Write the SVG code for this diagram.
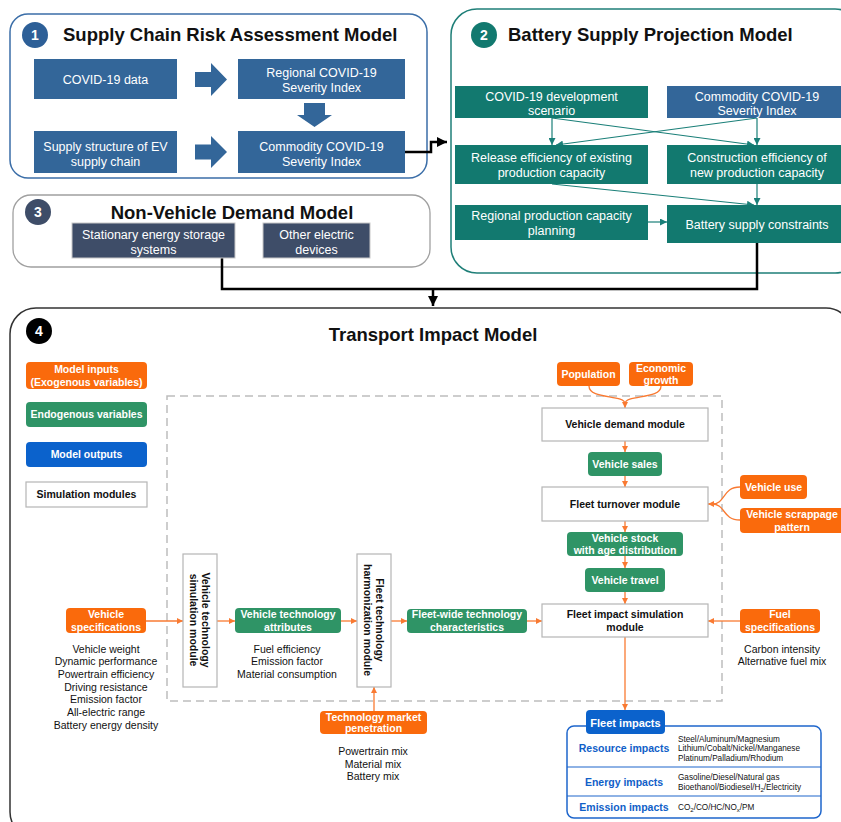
<svg xmlns="http://www.w3.org/2000/svg" width="841" height="822" viewBox="0 0 841 822">
  <defs>
    <style>
      text { font-family: "Liberation Sans", Arial, Helvetica, sans-serif; }
      .title { font-size: 18.5px; font-weight: bold; fill: #111; }
      .num { font-size: 14px; font-weight: bold; fill: #fff; text-anchor: middle; }
      .bt { font-size: 12.5px; fill: #fff; text-anchor: middle; }
      .lbl { font-size: 10.5px; font-weight: bold; fill: #fff; text-anchor: middle; }
      .mod { font-size: 10.5px; font-weight: bold; fill: #111; text-anchor: middle; }
      .list { font-size: 10.5px; fill: #111; text-anchor: middle; }
      .imp { font-size: 10.5px; font-weight: bold; fill: #1060c8; text-anchor: middle; }
      .item { font-size: 8.2px; fill: #111; }
      .p1box { fill: #336699; }
      .p2box { fill: #12796f; }
      .p3box { fill: #3e4d68; stroke: #c8c8c8; stroke-width: 1; }
      .inp { fill: #fa6a0c; }
      .endo { fill: #2f9466; }
      .outp { fill: #0b62cc; }
      .simm { fill: #fff; stroke: #b5b5b5; stroke-width: 1.2; }
      .blk { fill: none; stroke: #000; stroke-width: 2.5; }
      .teal { fill: none; stroke: #1a7f78; stroke-width: 1.2; }
      .org { fill: none; stroke: #f97a32; stroke-width: 1.3; }
    </style>
    <marker id="ahBlack" viewBox="0 0 10 10" refX="10" refY="5" markerWidth="10" markerHeight="10" markerUnits="userSpaceOnUse" orient="auto">
      <path d="M0,0 L10,5 L0,10 z" fill="#000"/>
    </marker>
    <marker id="ahTeal" viewBox="0 0 10 10" refX="10" refY="5" markerWidth="7" markerHeight="7" markerUnits="userSpaceOnUse" orient="auto">
      <path d="M0,0 L10,5 L0,10 z" fill="#1a7f78"/>
    </marker>
    <marker id="ahOrange" viewBox="0 0 10 10" refX="10" refY="5" markerWidth="6" markerHeight="6" markerUnits="userSpaceOnUse" orient="auto">
      <path d="M0,0 L10,5 L0,10 z" fill="#f97a32"/>
    </marker>
  </defs>

  <rect x="0" y="0" width="841" height="822" fill="#fff"/>

  <!-- Panel frames -->
  <g id="panel1">
    <rect x="10" y="14" width="417" height="164" rx="18" fill="#fff" stroke="#3b6ea8" stroke-width="1.5"/>
    <circle cx="35" cy="35" r="13" fill="#2d5f97"/>
    <text class="num" x="35" y="40">1</text>
    <text class="title" x="63" y="41">Supply Chain Risk Assessment Model</text>
  </g>
  <g id="panel2">
    <rect x="451" y="9" width="410" height="264" rx="26" fill="#fff" stroke="#1f7f78" stroke-width="1.5"/>
    <circle cx="484" cy="35" r="13" fill="#12796f"/>
    <text class="num" x="484" y="40">2</text>
    <text class="title" x="508" y="41">Battery Supply Projection Model</text>
  </g>
  <g id="panel3">
    <rect x="13" y="195" width="417" height="72" rx="18" fill="#fff" stroke="#a0a0a0" stroke-width="1.3"/>
    <circle cx="38" cy="212" r="13" fill="#3e4d68"/>
    <text class="num" x="38" y="217">3</text>
    <text class="title" x="232" y="219" text-anchor="middle">Non-Vehicle Demand Model</text>
  </g>
  <g id="panel4">
    <rect x="10" y="308" width="842" height="530" rx="26" fill="#fff" stroke="#333" stroke-width="1.5"/>
    <circle cx="39" cy="331" r="13" fill="#000"/>
    <text class="num" x="39" y="336">4</text>
    <text class="title" x="433" y="341" text-anchor="middle">Transport Impact Model</text>
    <rect x="167" y="396" width="555" height="305" fill="none" stroke="#bdbdbd" stroke-width="1.5" stroke-dasharray="8 5"/>
  </g>

  <!-- Connectors -->
  <g id="connectors">
    <!-- panel 1 block arrows -->
    <polygon points="195,72 211,72 211,63 227,79.5 211,96 211,87 195,87" fill="#336699"/>
    <polygon points="195,144.5 211,144.5 211,136 227,152 211,168 211,159.5 195,159.5" fill="#336699"/>
    <polygon points="304,103 325,103 325,115 332,115 314.5,127 297,115 304,115" fill="#336699"/>
    <!-- cross-model links -->
    <path class="blk" d="M405,152 H431 V142 H447" marker-end="url(#ahBlack)"/>
    <path class="blk" d="M757,243 V289 H433"/>
    <path class="blk" d="M222,258 V289 H433"/>
    <path class="blk" d="M433,288 V306" marker-end="url(#ahBlack)"/>
    <!-- panel 2 links -->
    <path class="teal" d="M552,118 V145" marker-end="url(#ahTeal)"/>
    <path class="teal" d="M552,118 L754,145" marker-end="url(#ahTeal)"/>
    <path class="teal" d="M757,118 V145" marker-end="url(#ahTeal)"/>
    <path class="teal" d="M757,118 L556,145" marker-end="url(#ahTeal)"/>
    <path class="teal" d="M552,184 L754,205" marker-end="url(#ahTeal)"/>
    <path class="teal" d="M757,184 V205" marker-end="url(#ahTeal)"/>
    <path class="teal" d="M648,222 H667" marker-end="url(#ahTeal)"/>
    <!-- panel 4 links -->
    <path class="org" d="M589,386 C589,400 625,394 625,404"/>
    <path class="org" d="M661,386 C661,400 625,394 625,404 V408" marker-end="url(#ahOrange)"/>
    <path class="org" d="M625,441 V452" marker-end="url(#ahOrange)"/>
    <path class="org" d="M625,476 V487" marker-end="url(#ahOrange)"/>
    <path class="org" d="M740,487 C722,487 726,504 712,504"/>
    <path class="org" d="M740,520 C722,520 726,504 712,504 H708" marker-end="url(#ahOrange)"/>
    <path class="org" d="M625,521 V532" marker-end="url(#ahOrange)"/>
    <path class="org" d="M625,556 V568" marker-end="url(#ahOrange)"/>
    <path class="org" d="M625,592 V604" marker-end="url(#ahOrange)"/>
    <path class="org" d="M146,621 H183" marker-end="url(#ahOrange)"/>
    <path class="org" d="M217,621 H235" marker-end="url(#ahOrange)"/>
    <path class="org" d="M341,621 H357" marker-end="url(#ahOrange)"/>
    <path class="org" d="M391,621 H407" marker-end="url(#ahOrange)"/>
    <path class="org" d="M527,621 H542" marker-end="url(#ahOrange)"/>
    <path class="org" d="M740,621 H708" marker-end="url(#ahOrange)"/>
    <path class="org" d="M374,711 V687" marker-end="url(#ahOrange)"/>
    <path class="org" d="M625,637 V710" marker-end="url(#ahOrange)"/>
  </g>

  <!-- Panel 1 nodes -->
  <g id="covid-data">
    <rect class="p1box" x="34" y="59" width="143" height="40"/>
    <text class="bt" x="105.5" y="83.5">COVID-19 data</text>
  </g>
  <g id="regional-index">
    <rect class="p1box" x="238" y="59" width="167" height="40"/>
    <text class="bt" x="321.5" y="76.5">Regional COVID-19</text>
    <text class="bt" x="321.5" y="92">Severity Index</text>
  </g>
  <g id="supply-structure">
    <rect class="p1box" x="34" y="131" width="143" height="42"/>
    <text class="bt" x="105.5" y="150.5">Supply structure of EV</text>
    <text class="bt" x="105.5" y="165.5">supply chain</text>
  </g>
  <g id="commodity-index">
    <rect class="p1box" x="238" y="131" width="167" height="42"/>
    <text class="bt" x="321.5" y="150.5">Commodity COVID-19</text>
    <text class="bt" x="321.5" y="165.5">Severity Index</text>
  </g>

  <!-- Panel 2 nodes -->
  <g id="covid-scenario">
    <rect class="p2box" x="455" y="86" width="193" height="32"/>
    <text class="bt" x="551.5" y="100.5">COVID-19 development</text>
    <text class="bt" x="551.5" y="114.5">scenario</text>
  </g>
  <g id="commodity-index-2">
    <rect class="p1box" x="667" y="86" width="181" height="32"/>
    <text class="bt" x="757" y="100.5">Commodity COVID-19</text>
    <text class="bt" x="757" y="114.5">Severity Index</text>
  </g>
  <g id="release-efficiency">
    <rect class="p2box" x="455" y="145" width="193" height="39"/>
    <text class="bt" x="551.5" y="161.5">Release efficiency of existing</text>
    <text class="bt" x="551.5" y="177">production capacity</text>
  </g>
  <g id="construction-efficiency">
    <rect class="p2box" x="667" y="145" width="181" height="39"/>
    <text class="bt" x="757" y="161.5">Construction efficiency of</text>
    <text class="bt" x="757" y="177">new production capacity</text>
  </g>
  <g id="capacity-planning">
    <rect class="p2box" x="455" y="205" width="193" height="35"/>
    <text class="bt" x="551.5" y="220">Regional production capacity</text>
    <text class="bt" x="551.5" y="235">planning</text>
  </g>
  <g id="battery-constraints">
    <rect class="p2box" x="667" y="205" width="181" height="38"/>
    <text class="bt" x="757" y="228.5">Battery supply constraints</text>
  </g>

  <!-- Panel 3 nodes -->
  <g id="stationary-storage">
    <rect class="p3box" x="72" y="223" width="163" height="35"/>
    <text class="bt" x="153.5" y="239">Stationary energy storage</text>
    <text class="bt" x="153.5" y="253.5">systems</text>
  </g>
  <g id="other-devices">
    <rect class="p3box" x="263" y="223" width="107" height="35"/>
    <text class="bt" x="316.5" y="239">Other electric</text>
    <text class="bt" x="316.5" y="253.5">devices</text>
  </g>

  <!-- Panel 4 legend -->
  <g id="legend-inputs">
    <rect class="inp" x="26" y="362" width="121" height="27" rx="4"/>
    <text class="lbl" x="86.5" y="373">Model inputs</text>
    <text class="lbl" x="86.5" y="385.5">(Exogenous variables)</text>
  </g>
  <g id="legend-endogenous">
    <rect class="endo" x="26" y="402" width="121" height="25" rx="4"/>
    <text class="lbl" x="86.5" y="418">Endogenous variables</text>
  </g>
  <g id="legend-outputs">
    <rect class="outp" x="26" y="442" width="121" height="25" rx="4"/>
    <text class="lbl" x="86.5" y="458">Model outputs</text>
  </g>
  <g id="legend-modules">
    <rect class="simm" x="26" y="482" width="121" height="25"/>
    <text class="mod" x="86.5" y="498">Simulation modules</text>
  </g>

  <!-- Panel 4 nodes -->
  <g id="population">
    <rect class="inp" x="557" y="362" width="63" height="24" rx="4"/>
    <text class="lbl" x="588.5" y="378">Population</text>
  </g>
  <g id="economic-growth">
    <rect class="inp" x="629" y="362" width="64" height="24" rx="4"/>
    <text class="lbl" x="661" y="371.5">Economic</text>
    <text class="lbl" x="661" y="384">growth</text>
  </g>
  <g id="vehicle-demand">
    <rect class="simm" x="542" y="408" width="166" height="33"/>
    <text class="mod" x="625" y="428">Vehicle demand module</text>
  </g>
  <g id="vehicle-sales">
    <rect class="endo" x="588" y="452" width="74" height="24" rx="4"/>
    <text class="lbl" x="625" y="468">Vehicle sales</text>
  </g>
  <g id="fleet-turnover">
    <rect class="simm" x="542" y="487" width="166" height="34"/>
    <text class="mod" x="625" y="508">Fleet turnover module</text>
  </g>
  <g id="vehicle-use">
    <rect class="inp" x="740" y="475" width="67" height="24" rx="4"/>
    <text class="lbl" x="773.5" y="491">Vehicle use</text>
  </g>
  <g id="scrappage-pattern">
    <rect class="inp" x="740" y="508" width="105" height="25" rx="4"/>
    <text class="lbl" x="792" y="518">Vehicle scrappage</text>
    <text class="lbl" x="792" y="530.5">pattern</text>
  </g>
  <g id="vehicle-stock">
    <rect class="endo" x="567" y="532" width="116" height="24" rx="4"/>
    <text class="lbl" x="625" y="541.5">Vehicle stock</text>
    <text class="lbl" x="625" y="554">with age distribution</text>
  </g>
  <g id="vehicle-travel">
    <rect class="endo" x="585" y="568" width="80" height="24" rx="4"/>
    <text class="lbl" x="625" y="584">Vehicle travel</text>
  </g>
  <g id="fleet-impact-module">
    <rect class="simm" x="542" y="604" width="166" height="33"/>
    <text class="mod" x="625" y="618">Fleet impact simulation</text>
    <text class="mod" x="625" y="631">module</text>
  </g>
  <g id="vehicle-specifications">
    <rect class="inp" x="66" y="608" width="80" height="25" rx="4"/>
    <text class="lbl" x="106" y="618">Vehicle</text>
    <text class="lbl" x="106" y="630.5">specifications</text>
    <text class="list" x="106" y="652.7">Vehicle weight</text>
    <text class="list" x="106" y="665.4">Dynamic performance</text>
    <text class="list" x="106" y="678">Powertrain efficiency</text>
    <text class="list" x="106" y="690.5">Driving resistance</text>
    <text class="list" x="106" y="703">Emission factor</text>
    <text class="list" x="106" y="716">All-electric range</text>
    <text class="list" x="106" y="728.5">Battery energy density</text>
  </g>
  <g id="vehicle-tech-module">
    <rect class="simm" x="183" y="554" width="34" height="133"/>
    <text class="mod" transform="translate(200,620) rotate(90)"><tspan x="0" y="-1.5">Vehicle technology</tspan><tspan x="0" y="10.5">simulation module</tspan></text>
  </g>
  <g id="vehicle-tech-attributes">
    <rect class="endo" x="235" y="608" width="106" height="25" rx="4"/>
    <text class="lbl" x="288" y="618">Vehicle technology</text>
    <text class="lbl" x="288" y="630.5">attributes</text>
    <text class="list" x="287" y="652.7">Fuel efficiency</text>
    <text class="list" x="287" y="665.4">Emission factor</text>
    <text class="list" x="287" y="678">Material consumption</text>
  </g>
  <g id="fleet-harmonization-module">
    <rect class="simm" x="357" y="554" width="34" height="133"/>
    <text class="mod" transform="translate(374,620) rotate(90)"><tspan x="0" y="-1.5">Fleet technology</tspan><tspan x="0" y="10.5">harmonization module</tspan></text>
  </g>
  <g id="market-penetration">
    <rect class="inp" x="320" y="711" width="107" height="23" rx="4"/>
    <text class="lbl" x="373.5" y="720.5">Technology market</text>
    <text class="lbl" x="373.5" y="732">penetration</text>
    <text class="list" x="373" y="755.4">Powertrain mix</text>
    <text class="list" x="373" y="767.5">Material mix</text>
    <text class="list" x="373" y="779.7">Battery mix</text>
  </g>
  <g id="fleet-wide-characteristics">
    <rect class="endo" x="407" y="609" width="120" height="24" rx="4"/>
    <text class="lbl" x="467" y="618">Fleet-wide technology</text>
    <text class="lbl" x="467" y="630.5">characteristics</text>
  </g>
  <g id="fuel-specifications">
    <rect class="inp" x="740" y="609" width="80" height="24" rx="4"/>
    <text class="lbl" x="780" y="618">Fuel</text>
    <text class="lbl" x="780" y="630.5">specifications</text>
    <text class="list" x="782" y="652.7">Carbon intensity</text>
    <text class="list" x="782" y="665.4">Alternative fuel mix</text>
  </g>
  <g id="fleet-impacts">
    <rect x="567" y="726" width="254" height="92" rx="7" fill="#fff" stroke="#1e66cc" stroke-width="1.5"/>
    <line x1="567" y1="767" x2="821" y2="767" stroke="#1e66cc" stroke-width="1.2"/>
    <line x1="567" y1="796" x2="821" y2="796" stroke="#1e66cc" stroke-width="1.2"/>
    <rect class="outp" x="586" y="710" width="79" height="24" rx="4"/>
    <text class="lbl" x="625.5" y="727" style="font-size:11px">Fleet impacts</text>
    <text class="imp" x="624" y="752">Resource impacts</text>
    <text class="item" x="678" y="742">Steel/Aluminum/Magnesium</text>
    <text class="item" x="678" y="751">Lithium/Cobalt/Nickel/Manganese</text>
    <text class="item" x="678" y="761">Platinum/Palladium/Rhodium</text>
    <text class="imp" x="624" y="786">Energy impacts</text>
    <text class="item" x="678" y="780">Gasoline/Diesel/Natural gas</text>
    <text class="item" x="678" y="790">Bioethanol/Biodiesel/H<tspan dy="2" font-size="6">2</tspan><tspan dy="-2">/Electricity</tspan></text>
    <text class="imp" x="624" y="811">Emission impacts</text>
    <text class="item" x="678" y="810">CO<tspan dy="2" font-size="6">2</tspan><tspan dy="-2">/CO/HC/NO</tspan><tspan dy="2" font-size="6">x</tspan><tspan dy="-2">/PM</tspan></text>
  </g>
</svg>
